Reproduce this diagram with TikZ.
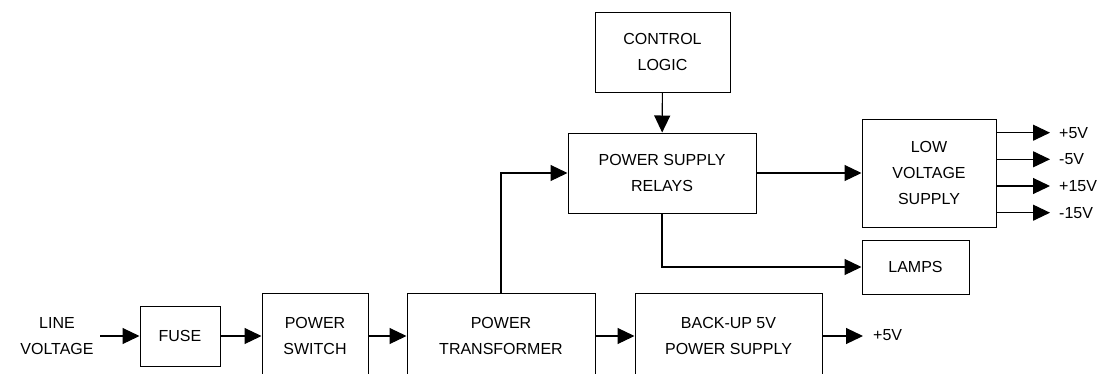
\documentclass[tikz,border=0pt]{standalone}
\usepackage{fontspec}
\setmainfont{Liberation Sans}
\usetikzlibrary{arrows.meta}
\begin{document}
\begin{tikzpicture}[x = 1pt, y = -1pt,
  font = \fontsize{16}{26}\selectfont,
  blk/.style = {draw, line width = 1pt, rectangle, align = center,
    inner sep = 0pt},
  arr/.style = {line width = 1.1pt, -{Triangle[length = 17pt, width = 16pt]}}]
  \clip (0, 0) rectangle (1099, 373);
  % bottom row
  \node[align = center] (line) at (57, 336) {LINE\\VOLTAGE};
  \coordinate (lvin) at (100, 336);
  \node[blk, minimum width = 80pt, minimum height = 60pt] (fuse) at
  (180, 336) {FUSE};
  \node[blk, minimum width = 106pt, minimum height = 86pt] (switch) at
  (315, 336) {POWER\\SWITCH};
  \node[blk, minimum width = 188pt, minimum height = 86pt] (trans) at
  (501, 336) {POWER\\TRANSFORMER};
  \node[blk, minimum width = 187pt, minimum height = 86pt] (backup) at
  (728.5, 336) {BACK-UP 5V\\POWER SUPPLY};
  \coordinate (bout) at (863, 336);
  \node[anchor = west, inner sep = 0pt] (bplus) at (873, 335) {+5V};
  % upper part
  \node[blk, minimum width = 135pt, minimum height = 80pt] (ctrl) at
  (662.5, 52) {CONTROL\\LOGIC};
  \node[blk, minimum width = 188pt, minimum height = 80pt] (relays) at
  (662, 173) {POWER SUPPLY\\RELAYS};
  \node[blk, minimum width = 134pt, minimum height = 108pt] (low) at
  (929, 173) {LOW\\VOLTAGE\\SUPPLY};
  \node[blk, minimum width = 107pt, minimum height = 54pt] (lamps) at
  (915.5, 267) {LAMPS};

  \draw[arr] (lvin) -- (fuse);
  \draw[arr] (fuse) -- (switch);
  \draw[arr] (switch) -- (trans);
  \draw[arr] (trans) -- (backup);
  \draw[arr] (backup) -- (bout);
  \draw[arr] (trans.north) |- (relays.west);
  \draw[arr] (ctrl) -- (relays);
  \draw[arr] (relays) -- (low);
  \draw[arr] (relays.south) |- (lamps.west);
  \foreach \y/\v/\n in {132.7/+5V/a, 159.3/-5V/b, 186/+15V/c, 212.7/-15V/d} {
    \coordinate (o\n) at (1050, \y);
    \draw[arr] (low.east |- o\n) -- (o\n);
    \node[anchor = west, inner sep = 0pt] (l\n) at (1059, \y) {\v};
  }
\end{tikzpicture}
\end{document}
